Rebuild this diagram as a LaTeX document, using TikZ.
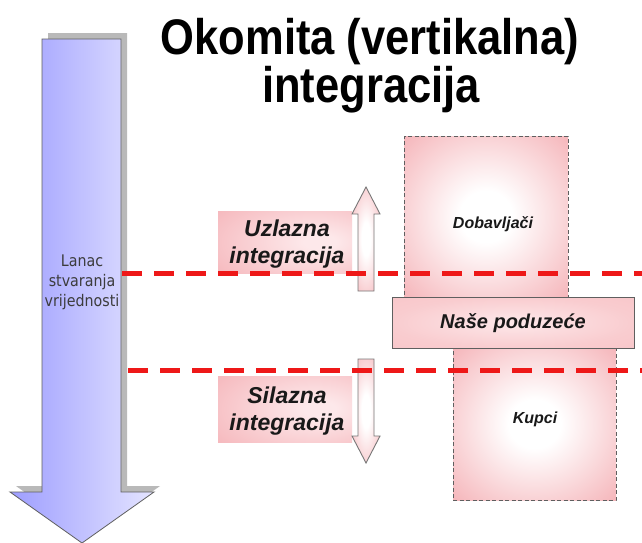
\documentclass[tikz,border=0pt]{standalone}
\usepackage{fontspec}
\setmainfont{Liberation Sans}
\newfontfamily\dvs{DejaVu Sans}
\definecolor{pinkE}{RGB}{245,180,185}
\definecolor{pinkW}{RGB}{253,232,234}
\definecolor{pinkN}{RGB}{249,204,207}
\definecolor{blueL}{RGB}{158,158,255}
\definecolor{blueR}{RGB}{228,228,255}
\definecolor{dashred}{RGB}{238,24,24}
\definecolor{edgegray}{RGB}{95,95,95}
\definecolor{shadowgray}{RGB}{185,185,185}
\definecolor{chaintext}{RGB}{60,60,60}
\pgfdeclareradialshading{glow}{\pgfpointorigin}{color(0bp)=(white); color(8bp)=(white); color(36bp)=(pinkE); color(75bp)=(pinkE)}
\pgfdeclareradialshading{glowR}{\pgfpoint{14bp}{0bp}}{color(0bp)=(pinkW); color(6bp)=(pinkW); color(45bp)=(pinkE); color(90bp)=(pinkE)}
\pgfdeclareradialshading{glowN}{\pgfpointorigin}{color(0bp)=(pinkW); color(25bp)=(pinkN); color(75bp)=(pinkE)}
\begin{document}
\begin{tikzpicture}[x=1pt,y=-1pt,
  supbox/.style={shading=glow, draw=edgegray, dash pattern=on 4pt off 2.5pt, line width=0.8pt, inner sep=0pt},
  ourbox/.style={shading=glowN, draw=edgegray, line width=0.9pt, inner sep=0pt},
  lblbox/.style={shading=glowR, inner sep=0pt},
  smallarrow/.style={shading=glow, draw=edgegray!85, line width=0.9pt},
  reddash/.style={dashred, line width=5pt, dash pattern=on 20pt off 12pt},
  lbltxt/.style={font=\bfseries\itshape\fontsize{23}{27}\selectfont, align=center, inner sep=0pt, text=black!90},
  boxtxt/.style={font=\bfseries\itshape\fontsize{16}{19}\selectfont, inner sep=0pt, text=black!90},
  titletxt/.style={font=\bfseries\fontsize{50}{58}\selectfont, xscale=0.87, inner sep=0pt, anchor=base}]
\useasboundingbox (0,0) rectangle (642,542);
\fill[white] (0,0) rectangle (642,542);

% value chain arrow
\fill[shadowgray] (48,33) -- (127,33) -- (127,486) -- (160,486) -- (88,537) -- (16,486) -- (48,486) -- cycle;
\draw[edgegray, line width=0.8pt, left color=blueL, right color=blueR]
  (42,39) -- (121,39) -- (121,492) -- (154,492) -- (82,543) -- (10,492) -- (42,492) -- cycle;
\node[font=\dvs\fontsize{16}{20}\selectfont, xscale=0.89, align=center, text=chaintext, inner sep=0pt] (chain) at (82,282) {Lanac\\stvaranja\\vrijednosti};

% boxes
\node[supbox, minimum width=164pt, minimum height=161pt] (dob) at (486,216.5) {};
\node[supbox, minimum width=163pt, minimum height=152pt] (kup) at (534.5,424) {};
\node[ourbox, minimum width=242pt, minimum height=51pt] (nas) at (513,322.5) {};

% label boxes
\node[lblbox, minimum width=134pt, minimum height=62pt] (uzb) at (285,242) {};
\node[lblbox, minimum width=134pt, minimum height=66pt] (sib) at (285,409) {};

% small arrows
\draw[smallarrow] (358,291) -- (358,214) -- (352,214) -- (366,187) -- (380,214) -- (374,214) -- (374,291) -- cycle;
\draw[smallarrow] (358,359) -- (374,359) -- (374,436) -- (380,436) -- (366,463) -- (352,436) -- (358,436) -- cycle;

% dashed lines
\coordinate (d1a) at (122,273);
\coordinate (d1b) at (642,273);
\coordinate (d2a) at (128,370);
\coordinate (d2b) at (642,370);
\draw[reddash] (d1a) -- (d1b);
\draw[reddash] (d2a) -- (d2b);

% texts
\node[lbltxt] (uzt) at (287,244) {Uzlazna\\integracija};
\node[lbltxt] (sit) at (287,411) {Silazna\\integracija};
\node[boxtxt] (dobt) at (493,224) {Dobavljači};
\node[boxtxt] (kupt) at (535,419) {Kupci};
\node[boxtxt, font=\bfseries\itshape\fontsize{20}{24}\selectfont] (nast) at (513,323) {Naše poduzeće};

% title
\node[titletxt] (t1) at (370,54) {Okomita (vertikalna)};
\node[titletxt] (t2) at (371,102) {integracija};
\end{tikzpicture}
\end{document}
